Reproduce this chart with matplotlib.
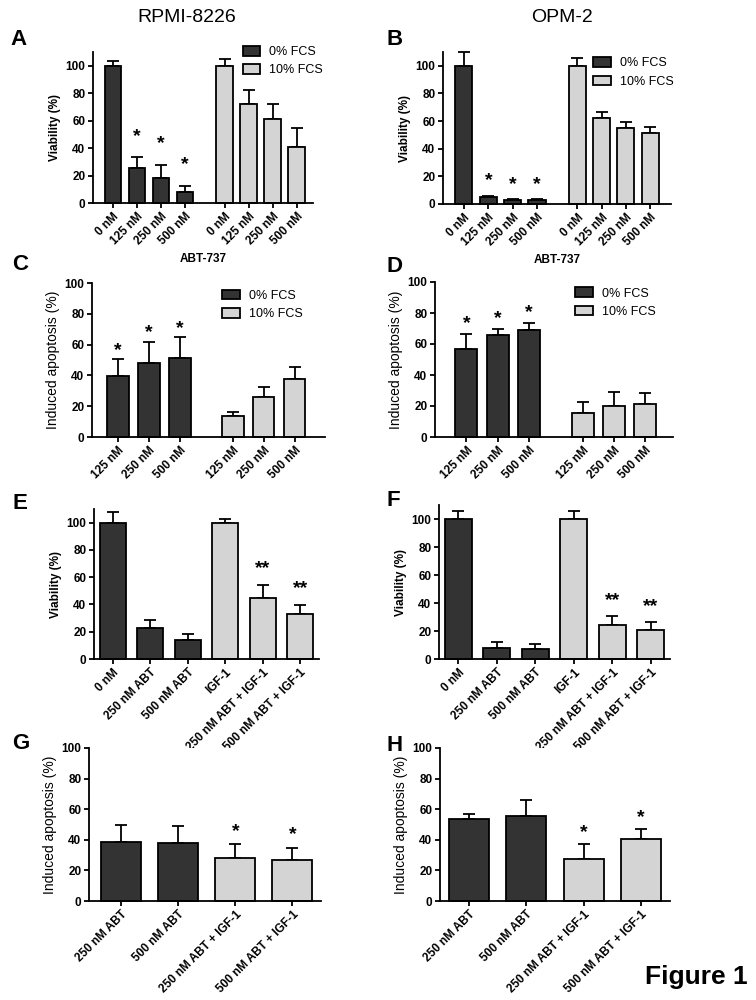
import numpy as np
import matplotlib
matplotlib.use('Agg')
import matplotlib.pyplot as plt
from matplotlib.patches import Patch

plt.rcParams['font.family'] = ['Liberation Sans', 'DejaVu Sans']

DARK = '#333333'
LIGHT = '#d4d4d4'
W, H = 756, 1000

# ── Data ────────────────────────────────────────────────────────
conc4 = ['0 nM', '125 nM', '250 nM', '500 nM']
conc3 = ['125 nM', '250 nM', '500 nM']
igf_labels = ['0 nM', '250 nM ABT', '500 nM ABT', 'IGF-1',
              '250 nM ABT + IGF-1', '500 nM ABT + IGF-1']
apo_labels = ['250 nM ABT', '500 nM ABT', '250 nM ABT + IGF-1', '500 nM ABT + IGF-1']

# A: RPMI-8226 viability
a_fcs0 = [100, 25.5, 18, 8.3]
a_fcs0_err = [3.4, 8, 10, 4.4]
a_fcs10 = [100, 72, 61.5, 40.7]
a_fcs10_err = [4.6, 10.5, 10.7, 14]
a_stars = ['', '*', '*', '*', '', '', '', '']

# B: OPM-2 viability
b_fcs0 = [100, 5.3, 2.9, 2.7]
b_fcs0_err = [9.7, 0.6, 0.5, 0.7]
b_fcs10 = [100, 62.3, 55, 51.2]
b_fcs10_err = [6, 4, 4.2, 4.3]
b_stars = ['', '*', '*', '*', '', '', '', '']

# C: RPMI-8226 induced apoptosis
c_fcs0 = [39.8, 48, 51.3]
c_fcs0_err = [10.8, 14, 13.6]
c_fcs10 = [13.9, 26, 37.7]
c_fcs10_err = [2.2, 6.3, 7.5]
c_stars = ['*', '*', '*', '', '', '']

# D: OPM-2 induced apoptosis
d_fcs0 = [57, 65.7, 69]
d_fcs0_err = [9.5, 3.9, 4.7]
d_fcs10 = [15.5, 20, 21.6]
d_fcs10_err = [7, 9, 7.1]
d_stars = ['*', '*', '*', '', '', '']

# E: RPMI-8226 viability with IGF-1
e_vals = [100, 22.7, 13.9, 100, 44.9, 32.7]
e_err = [8, 6, 4.6, 3, 9.3, 6.6]
e_stars = ['', '', '', '', '**', '**']

# F: OPM-2 viability with IGF-1
f_vals = [100, 7.9, 7.4, 100, 24, 21]
f_err = [6, 4, 3.6, 5.7, 7, 5.7]
f_stars = ['', '', '', '', '**', '**']

# G: RPMI-8226 apoptosis with IGF-1
g_vals = [38.3, 37.9, 28.2, 26.7]
g_err = [11.4, 11.3, 9, 7.9]
g_stars = ['', '', '*', '*']

# H: OPM-2 apoptosis with IGF-1
h_vals = [53.4, 55.8, 27.4, 40.3]
h_err = [3.5, 10, 9.8, 6.6]
h_stars = ['', '', '*', '*']


def px_axes(fig, left, right, top, bottom):
    """Add axes from pixel box (origin top-left)."""
    return fig.add_axes([left / W, 1 - bottom / H, (right - left) / W, (bottom - top) / H])


def draw_panel(ax, x, vals, errs, colors, labels, stars, star_off,
               ylabel, ylim, xlim, ybold):
    ax.errorbar(x, vals, yerr=[np.zeros(len(vals)), errs], fmt='none',
                ecolor='black', elinewidth=1.3, capsize=4.5, capthick=1.3,
                zorder=1, clip_on=False)
    ax.bar(x, vals, width=0.7, color=colors, edgecolor='black',
           linewidth=1.3, zorder=2, clip_on=False)
    for xi, v, e, s in zip(x, vals, errs, stars):
        if s:
            ax.text(xi, v + e + star_off, s, ha='center', va='center',
                    fontsize=14, fontweight='bold', zorder=3)
    ax.set_ylim(*ylim)
    ax.set_xlim(*xlim)
    ax.set_yticks(np.arange(0, 101, 20))
    ax.set_xticks(x)
    ax.set_xticklabels(labels, rotation=45, ha='right', rotation_mode='anchor',
                       fontweight='bold', fontsize=8.5)
    for lab in ax.get_yticklabels():
        lab.set_fontweight('bold')
        lab.set_fontsize(8.5)
    ax.set_ylabel(ylabel, fontweight='bold' if ybold else 'normal',
                  fontsize=8.5 if ybold else 10, labelpad=3)
    for side in ['top', 'right']:
        ax.spines[side].set_visible(False)
    for side in ['left', 'bottom']:
        ax.spines[side].set_linewidth(1.3)
    ax.tick_params(direction='out', length=3.5, width=1.3, pad=2)


def fcs_legend(ax, bx, by):
    handles = [Patch(facecolor=DARK, edgecolor='black', linewidth=1.3, label='0% FCS'),
               Patch(facecolor=LIGHT, edgecolor='black', linewidth=1.3, label='10% FCS')]
    ax.legend(handles=handles, loc='upper left', bbox_to_anchor=(bx, by),
              frameon=False, fontsize=9, handlelength=1.4, handleheight=0.8,
              handletextpad=0.7, labelspacing=0.5, borderpad=0, borderaxespad=0)


fig = plt.figure(figsize=(W / 100, H / 100), dpi=100)

# positions for grouped bars
x8 = np.concatenate([np.arange(4), np.arange(4) + 4.65])
x6g = np.concatenate([np.arange(3), np.arange(3) + 3.7])
x6 = np.arange(6)
x4 = np.arange(4)
col8 = [DARK] * 4 + [LIGHT] * 4
col6 = [DARK] * 3 + [LIGHT] * 3
col4 = [DARK] * 2 + [LIGHT] * 2

axA = px_axes(fig, 93, 313, 52, 203)
draw_panel(axA, x8, a_fcs0 + a_fcs10, a_fcs0_err + a_fcs10_err, col8, conc4 * 2,
           a_stars, 15, 'Viability (%)', (0, 110), (-0.83, 8.33), True)
axA.set_xlabel('ABT-737', fontweight='bold', fontsize=8.5, labelpad=4)
fcs_legend(axA, 0.68, 1.04)

axB = px_axes(fig, 443, 671, 52, 204)
draw_panel(axB, x8, b_fcs0 + b_fcs10, b_fcs0_err + b_fcs10_err, col8, conc4 * 2,
           b_stars, 11, 'Viability (%)', (0, 110), (-0.86, 8.5), True)
axB.set_xlabel('ABT-737', fontweight='bold', fontsize=8.5, labelpad=4)
fcs_legend(axB, 0.66, 0.965)

axC = px_axes(fig, 92, 325, 283, 437)
draw_panel(axC, x6g, c_fcs0 + c_fcs10, c_fcs0_err + c_fcs10_err, col6, conc3 * 2,
           c_stars, 5.5, 'Induced apoptosis (%)', (0, 100), (-0.84, 6.68), False)
fcs_legend(axC, 0.56, 0.955)

axD = px_axes(fig, 435, 673, 282, 437)
draw_panel(axD, x6g, d_fcs0 + d_fcs10, d_fcs0_err + d_fcs10_err, col6, conc3 * 2,
           d_stars, 6.5, 'Induced apoptosis (%)', (0, 100), (-1.0, 6.58), False)
fcs_legend(axD, 0.59, 0.965)

axE = px_axes(fig, 94, 319, 509, 659)
draw_panel(axE, x6, e_vals, e_err, col6, igf_labels, e_stars, 12,
           'Viability (%)', (0, 110), (-0.5, 5.5), True)

axF = px_axes(fig, 439, 670, 505, 659)
draw_panel(axF, x6, f_vals, f_err, col6, igf_labels, f_stars, 10.5,
           'Viability (%)', (0, 110), (-0.5, 5.5), True)

axG = px_axes(fig, 89, 321, 748, 901)
draw_panel(axG, x4, g_vals, g_err, col4, apo_labels, g_stars, 8.5,
           'Induced apoptosis (%)', (0, 100), (-0.56, 3.5), False)

axH = px_axes(fig, 440, 670, 748, 901)
draw_panel(axH, x4, h_vals, h_err, col4, apo_labels, h_stars, 7.5,
           'Induced apoptosis (%)', (0, 100), (-0.5, 3.5), False)

# column titles
fig.text(187 / W, 1 - 18 / H, 'RPMI-8226', ha='center', va='center', fontsize=14)
fig.text(562 / W, 1 - 18 / H, 'OPM-2', ha='center', va='center', fontsize=14)

# panel letters (x, top of capital in px)
letters = [('A', 10, 33), ('B', 386, 33), ('C', 12, 258), ('D', 386, 260),
           ('E', 12, 497), ('F', 386, 494), ('G', 12, 737), ('H', 386, 739)]
for s, lx, ly in letters:
    fig.text(lx / W, 1 - (ly - 4) / H, s, ha='left', va='top',
             fontsize=16, fontweight='bold')

fig.text(645 / W, 1 - 984 / H, 'Figure 1', ha='left', va='baseline',
         fontsize=19, fontweight='bold')

fig.savefig('out.png', dpi=100)
plt.close(fig)
